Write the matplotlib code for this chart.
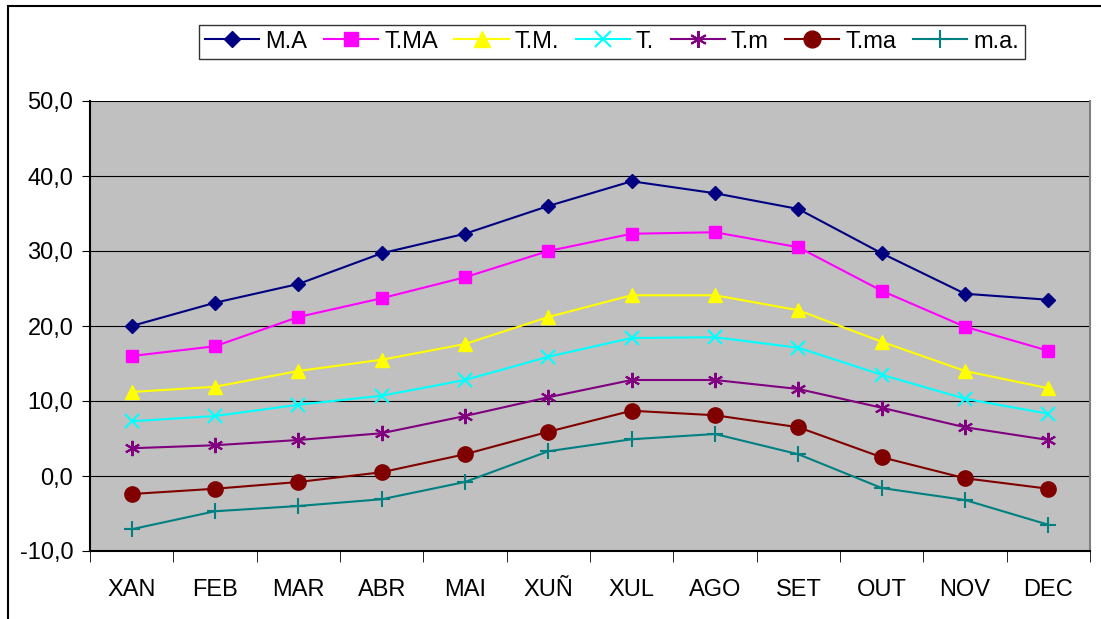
import matplotlib
matplotlib.use("Agg")
import matplotlib.pyplot as plt
from matplotlib.patches import Rectangle

months = ["XAN", "FEB", "MAR", "ABR", "MAI", "XUÑ", "XUL", "AGO", "SET", "OUT", "NOV", "DEC"]

m_A = [20.0, 23.1, 25.6, 29.7, 32.3, 36.0, 39.3, 37.7, 35.6, 29.7, 24.3, 23.5]
t_MA = [16.0, 17.3, 21.2, 23.7, 26.5, 30.0, 32.3, 32.5, 30.5, 24.7, 19.9, 16.7]
t_M = [11.2, 11.9, 14.0, 15.5, 17.6, 21.2, 24.1, 24.1, 22.1, 17.9, 14.0, 11.7]
t_med = [7.3, 8.0, 9.5, 10.7, 12.8, 15.9, 18.4, 18.5, 17.1, 13.5, 10.3, 8.3]
t_m = [3.7, 4.1, 4.8, 5.7, 8.0, 10.5, 12.8, 12.8, 11.6, 9.1, 6.5, 4.8]
t_ma = [-2.4, -1.7, -0.8, 0.5, 2.9, 5.9, 8.7, 8.1, 6.5, 2.5, -0.3, -1.7]
m_a = [-7.1, -4.7, -4.0, -3.1, -0.8, 3.3, 4.9, 5.6, 2.9, -1.6, -3.2, -6.5]

series = [
    ("M.A", m_A, "#000080", "D", 7),
    ("T.MA", t_MA, "#FF00FF", "s", 9),
    ("T.M.", t_M, "#FFFF00", "^", 10),
    ("T.", t_med, "#00FFFF", "x", 10),
    ("T.m", t_m, "#800080", (6, 2, 0), 11),
    ("T.ma", t_ma, "#800000", "o", 11),
    ("m.a.", m_a, "#008080", "+", 12),
]

plt.rcParams["font.family"] = ["Liberation Sans", "DejaVu Sans"]

fig = plt.figure(figsize=(11.01, 6.19), dpi=100)
ax = fig.add_axes([90 / 1101, 68 / 619, 1000 / 1101, 450 / 619])
ax.set_facecolor("#C0C0C0")

x = list(range(len(months)))
for name, vals, col, mk, ms in series:
    ax.plot(x, vals, color=col, marker=mk, markersize=ms, linewidth=1.5,
            markeredgewidth=1.5 if mk in ("x", "+", (6, 2, 0)) else 1,
            label=name, clip_on=False, zorder=3)

ax.set_xlim(-0.5, len(months) - 0.5)
ax.set_ylim(-10, 50)
ax.set_yticks(range(-10, 51, 10))
ax.set_yticklabels([f"{v:.1f}".replace(".", ",") for v in range(-10, 51, 10)], fontsize=17)
ax.set_xticks(x)
ax.set_xticklabels(months, fontsize=17)
ax.tick_params(axis="x", length=0, pad=20)
ax.set_xticks([i - 0.5 for i in range(len(months) + 1)], minor=True)
ax.tick_params(axis="x", which="minor", length=8, direction="out", color="black")
ax.tick_params(axis="y", length=6, direction="out", pad=6)
ax.grid(axis="y", color="black", linewidth=0.8)
ax.set_axisbelow(True)
for side in ("left", "bottom", "right"):
    ax.spines[side].set_color("#808080")
    ax.spines[side].set_linewidth(1.5)
ax.spines["top"].set_visible(False)
ax.spines["bottom"].set_color("black")
ax.spines["left"].set_color("black")

leg = fig.legend(loc="upper center", bbox_to_anchor=(612 / 1101, 1 - 13 / 619), ncol=7,
                 fontsize=17, frameon=True, fancybox=False, edgecolor="black",
                 handlelength=2.3, handletextpad=0.25, columnspacing=0.7,
                 borderpad=0.25, markerscale=1.1)
leg.get_frame().set_linewidth(1)

# outer chart frame
fig.patches.append(Rectangle((8 / 1101, -0.01), 1.1, 1.0, transform=fig.transFigure,
                             fill=False, edgecolor="black", linewidth=1.5))

fig.savefig("out.png", dpi=100)
